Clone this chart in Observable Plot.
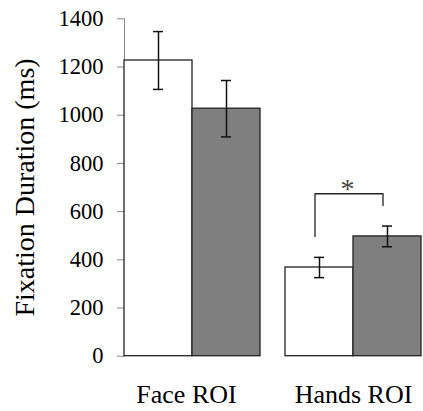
<!DOCTYPE html>
<html>
<head>
<meta charset="utf-8">
<script src="https://cdn.jsdelivr.net/npm/d3@7"></script>
<script src="https://cdn.jsdelivr.net/npm/@observablehq/plot@0.6"></script>
<style>
  html, body { margin: 0; padding: 0; background: #fff; }
</style>
</head>
<body>
<div id="chart"></div>
<script>
// ---- data ----
const rois = ["Face ROI", "Hands ROI"];
const conditions = ["Condition 1", "Condition 2"];
const faceMeans = [1227, 1027];
const faceErrors = [120, 117];
const handsMeans = [368, 497];
const handsErrors = [42, 43];
const yTicks = [0, 200, 400, 600, 800, 1000, 1200, 1400];
const barColors = ["#ffffff", "#7f7f7f"];
const bracketY = [497, 674, 674, 625];
const starY = 704;

// ---- table built from arrays ----
const table = [];
[faceMeans, handsMeans].forEach((means, i) => {
  const errs = i === 0 ? faceErrors : handsErrors;
  means.forEach((m, j) => {
    table.push({roi: rois[i], cond: conditions[j], value: m, lo: m - errs[j], hi: m + errs[j]});
  });
});
const bracket = [
  {roi: rois[1], cond: conditions[0], y: bracketY[0]},
  {roi: rois[1], cond: conditions[0], y: bracketY[1]},
  {roi: rois[1], cond: conditions[1], y: bracketY[2]},
  {roi: rois[1], cond: conditions[1], y: bracketY[3]}
];

const font = "'Liberation Serif', 'Times New Roman', serif";

const chart = Plot.plot({
  width: 423,
  height: 411,
  marginLeft: 123,
  marginRight: 1.3,
  marginTop: 18.3,
  marginBottom: 55.3,
  style: {fontFamily: font, background: "#fff", color: "#000", overflow: "visible"},
  fx: {domain: rois, paddingInner: 0.155, paddingOuter: 0},
  x: {domain: conditions, padding: 0, axis: null},
  y: {domain: [0, 1400]},
  color: {domain: conditions, range: barColors},
  marks: [
    Plot.frame({anchor: "left", facetAnchor: "left", stroke: "#868686"}),
    Plot.axisY({ticks: yTicks, tickSize: 7, tickPadding: 14, fontSize: 22.5, stroke: "#868686", label: null, tickFormat: d => String(d)}),
    Plot.axisY({ticks: [], label: "Fixation Duration (ms)", labelAnchor: "center", labelArrow: "none", labelOffset: 110, fontSize: 28}),
    Plot.axisFx({anchor: "bottom", ticks: [rois[0]], tickSize: 0, tickPadding: 28.5, fontSize: 26, dx: -6, label: null}),
    Plot.axisFx({anchor: "bottom", ticks: [rois[1]], tickSize: 0, tickPadding: 28.5, fontSize: 26, label: null}),
    Plot.barY(table, {fx: "roi", x: "cond", y: "value", fill: "cond", stroke: "#222", strokeWidth: 1.3}),
    Plot.ruleX(table, {fx: "roi", x: "cond", y1: "lo", y2: "hi", stroke: "#111", strokeWidth: 1.5}),
    Plot.tickY(table, {fx: "roi", x: "cond", y: "hi", insetLeft: 29, insetRight: 29, stroke: "#111", strokeWidth: 1.5}),
    Plot.tickY(table, {fx: "roi", x: "cond", y: "lo", insetLeft: 29, insetRight: 29, stroke: "#111", strokeWidth: 1.5}),
    Plot.line(bracket, {fx: "roi", x: "cond", y: "y", dx: -4.5, stroke: "#222", strokeWidth: 1.3}),
    Plot.text([{roi: rois[1], t: "*", y: starY}], {fx: "roi", y: "y", text: "t", dx: -6, dy: 2, fontSize: 28, fill: "#444"})
  ]
});
document.getElementById("chart").appendChild(chart);
</script>
</body>
</html>
